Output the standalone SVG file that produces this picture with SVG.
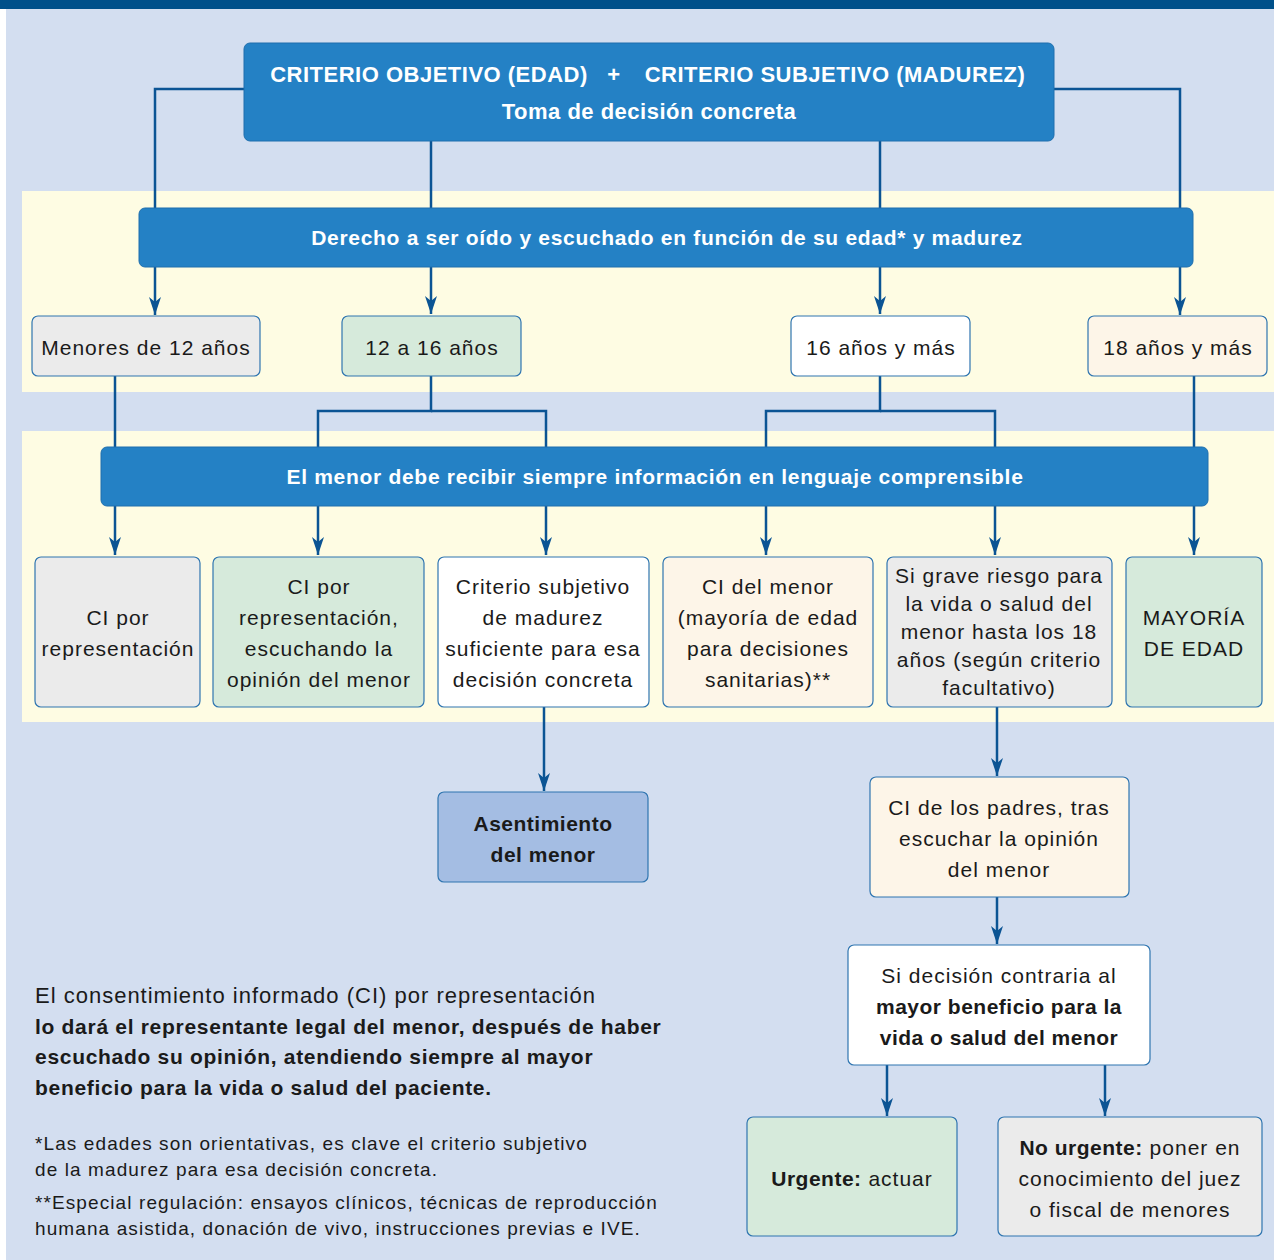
<svg xmlns="http://www.w3.org/2000/svg" width="1274" height="1260" viewBox="0 0 1274 1260">
<style>
.bg{fill:#d3def0}
.band{fill:#fefce3}
.bar{fill:#2481c5;stroke:#1f6fae;stroke-width:1}
.box{stroke:#2f75b0;stroke-width:1.2}
.w{fill:#ffffff}.g{fill:#ebebeb}.gr{fill:#d6eadb}.c{fill:#fdf5e8}.b{fill:#a4bde3}
.bt{font-family:"Liberation Sans",Arial,sans-serif;font-weight:bold;fill:#ffffff;font-size:21px;letter-spacing:0.7px;text-anchor:middle}
.hd{font-size:22px;letter-spacing:0.5px}
.t{font-family:"Liberation Sans",Arial,sans-serif;fill:#1a1a1a;font-size:21px;letter-spacing:1px;text-anchor:middle}
.tb{font-weight:bold;letter-spacing:0.5px}
.conn{fill:none;stroke:#0b5494;stroke-width:2.5}
.l{font-family:"Liberation Sans",Arial,sans-serif;fill:#1a1a1a}
</style>
<defs>
<marker id="ah" viewBox="0 -6 18 12" refX="18" refY="0" markerWidth="18" markerHeight="12" markerUnits="userSpaceOnUse" orient="auto">
<path d="M0,-6 L18,0 L0,6 L5,0 z" fill="#0b5494"/>
</marker>
</defs>
<rect x="0" y="0" width="1274" height="1260" fill="#ffffff"/>
<rect x="6" y="0" width="1268" height="1260" class="bg"/>
<rect x="0" y="0" width="1274" height="9" fill="#00508a"/>
<rect x="22" y="191" width="1252" height="201" class="band"/>
<rect x="22" y="431" width="1252" height="291" class="band"/>

<g id="connectors">
<polyline class="conn" points="244,89 155,89 155,315" marker-end="url(#ah)"/>
<polyline class="conn" points="1054,89 1180,89 1180,315" marker-end="url(#ah)"/>
<line class="conn" x1="431" y1="141" x2="431" y2="314" marker-end="url(#ah)"/>
<line class="conn" x1="880" y1="141" x2="880" y2="314" marker-end="url(#ah)"/>
<line class="conn" x1="115" y1="376" x2="115" y2="555" marker-end="url(#ah)"/>
<polyline class="conn" points="431,376 431,411 318,411 318,555" marker-end="url(#ah)"/>
<polyline class="conn" points="431,411 546,411 546,555" marker-end="url(#ah)"/>
<polyline class="conn" points="880,376 880,411 766,411 766,555" marker-end="url(#ah)"/>
<polyline class="conn" points="880,411 995,411 995,555" marker-end="url(#ah)"/>
<line class="conn" x1="1194" y1="376" x2="1194" y2="555" marker-end="url(#ah)"/>
<line class="conn" x1="544" y1="707" x2="544" y2="791" marker-end="url(#ah)"/>
<line class="conn" x1="997" y1="707" x2="997" y2="776" marker-end="url(#ah)"/>
<line class="conn" x1="997" y1="897" x2="997" y2="944" marker-end="url(#ah)"/>
<line class="conn" x1="887" y1="1065" x2="887" y2="1116" marker-end="url(#ah)"/>
<line class="conn" x1="1105" y1="1065" x2="1105" y2="1116" marker-end="url(#ah)"/>
</g>

<g id="header">
<rect x="244" y="43" width="810" height="98" rx="6" class="bar"/>
<text class="bt hd" x="429" y="82">CRITERIO OBJETIVO (EDAD)</text>
<text class="bt hd" x="614" y="82">+</text>
<text class="bt hd" x="835" y="82">CRITERIO SUBJETIVO (MADUREZ)</text>
<text class="bt hd" x="649" y="119">Toma de decisión concreta</text>
</g>

<g id="derecho">
<rect x="139" y="208" width="1054" height="59" rx="6" class="bar"/>
<text class="bt" x="667" y="245">Derecho a ser oído y escuchado en función de su edad* y madurez</text>
</g>

<g id="menores12">
<rect x="32" y="316" width="228" height="60" rx="6" class="box g"/>
<text class="t" x="146" y="355" font-size="22" letter-spacing="1.2">Menores de 12 años</text>
</g>
<g id="a12a16">
<rect x="342" y="316" width="179" height="60" rx="6" class="box gr"/>
<text class="t" x="432" y="355" font-size="22" letter-spacing="1.2">12 a 16 años</text>
</g>
<g id="a16">
<rect x="791" y="316" width="179" height="60" rx="6" class="box w"/>
<text class="t" x="881" y="355" font-size="22" letter-spacing="1.2">16 años y más</text>
</g>
<g id="a18">
<rect x="1088" y="316" width="179" height="60" rx="6" class="box c"/>
<text class="t" x="1178" y="355" font-size="22" letter-spacing="1.2">18 años y más</text>
</g>

<g id="informacion">
<rect x="101" y="447" width="1107" height="59" rx="6" class="bar"/>
<text class="bt" x="655" y="484">El menor debe recibir siempre información en lenguaje comprensible</text>
</g>

<g id="ci-rep">
<rect x="35" y="557" width="165" height="150" rx="6" class="box g"/>
<text class="t"><tspan x="118" y="625">CI por</tspan><tspan x="118" y="656">representación</tspan></text>
</g>
<g id="ci-rep-escuchando">
<rect x="213" y="557" width="211" height="150" rx="6" class="box gr"/>
<text class="t"><tspan x="319" y="594">CI por</tspan><tspan x="319" y="625">representación,</tspan><tspan x="319" y="656">escuchando la</tspan><tspan x="319" y="687">opinión del menor</tspan></text>
</g>
<g id="criterio-subjetivo">
<rect x="438" y="557" width="211" height="150" rx="6" class="box w"/>
<text class="t"><tspan x="543" y="594">Criterio subjetivo</tspan><tspan x="543" y="625">de madurez</tspan><tspan x="543" y="656">suficiente para esa</tspan><tspan x="543" y="687">decisión concreta</tspan></text>
</g>
<g id="ci-menor">
<rect x="663" y="557" width="210" height="150" rx="6" class="box c"/>
<text class="t"><tspan x="768" y="594">CI del menor</tspan><tspan x="768" y="625">(mayoría de edad</tspan><tspan x="768" y="656">para decisiones</tspan><tspan x="768" y="687">sanitarias)**</tspan></text>
</g>
<g id="grave-riesgo">
<rect x="887" y="557" width="225" height="150" rx="6" class="box g"/>
<text class="t" letter-spacing="0.6"><tspan x="999" y="583">Si grave riesgo para</tspan><tspan x="999" y="611">la vida o salud del</tspan><tspan x="999" y="639">menor hasta los 18</tspan><tspan x="999" y="667">años (según criterio</tspan><tspan x="999" y="695">facultativo)</tspan></text>
</g>
<g id="mayoria">
<rect x="1126" y="557" width="136" height="150" rx="6" class="box gr"/>
<text class="t"><tspan x="1194" y="625">MAYORÍA</tspan><tspan x="1194" y="656">DE EDAD</tspan></text>
</g>

<g id="asentimiento">
<rect x="438" y="792" width="210" height="90" rx="6" class="box b"/>
<text class="t tb"><tspan x="543" y="831">Asentimiento</tspan><tspan x="543" y="862">del menor</tspan></text>
</g>
<g id="ci-padres">
<rect x="870" y="777" width="259" height="120" rx="6" class="box c"/>
<text class="t"><tspan x="999" y="815">CI de los padres, tras</tspan><tspan x="999" y="846">escuchar la opinión</tspan><tspan x="999" y="877">del menor</tspan></text>
</g>
<g id="si-decision">
<rect x="848" y="945" width="302" height="120" rx="6" class="box w"/>
<text class="t"><tspan x="999" y="983">Si decisión contraria al</tspan><tspan x="999" y="1014" class="tb">mayor beneficio para la</tspan><tspan x="999" y="1045" class="tb">vida o salud del menor</tspan></text>
</g>
<g id="urgente">
<rect x="747" y="1117" width="210" height="119" rx="6" class="box gr"/>
<text class="t" x="852" y="1186"><tspan class="tb">Urgente:</tspan> actuar</text>
</g>
<g id="no-urgente">
<rect x="998" y="1117" width="264" height="119" rx="6" class="box g"/>
<text class="t"><tspan x="1130" y="1155"><tspan class="tb">No urgente:</tspan> poner en</tspan><tspan x="1130" y="1186">conocimiento del juez</tspan><tspan x="1130" y="1217">o fiscal de menores</tspan></text>
</g>

<g id="nota">
<text class="l" x="35" y="1003" font-size="22" letter-spacing="1">El consentimiento informado (CI) por representación</text>
<text class="l" font-weight="bold" font-size="21" letter-spacing="0.7"><tspan x="35" y="1034">lo dará el representante legal del menor, después de haber</tspan><tspan x="35" y="1064">escuchado su opinión, atendiendo siempre al mayor</tspan><tspan x="35" y="1095">beneficio para la vida o salud del paciente.</tspan></text>
<text class="l" font-size="19" letter-spacing="1.1"><tspan x="35" y="1150">*Las edades son orientativas, es clave el criterio subjetivo</tspan><tspan x="35" y="1176">de la madurez para esa decisión concreta.</tspan><tspan x="35" y="1209">**Especial regulación: ensayos clínicos, técnicas de reproducción</tspan><tspan x="35" y="1235">humana asistida, donación de vivo, instrucciones previas e IVE.</tspan></text>
</g>
</svg>
